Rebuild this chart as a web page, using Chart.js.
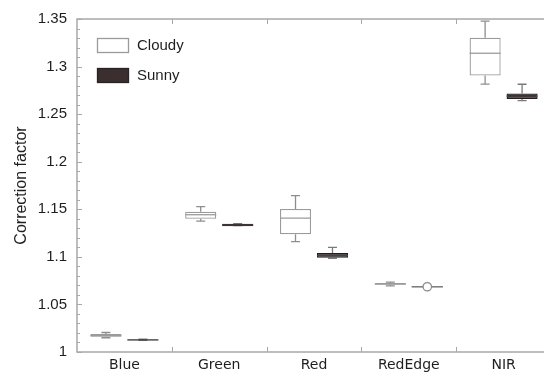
<!DOCTYPE html>
<html>
<head>
<meta charset="utf-8">
<script src="https://cdn.jsdelivr.net/npm/chart.js@4/dist/chart.umd.min.js"></script>
<style>
  html, body { margin: 0; padding: 0; background: #fff; overflow: hidden; }
  #wrap { width: 560px; height: 374px; }
</style>
</head>
<body>
<div id="wrap"><canvas id="c" width="560" height="374"></canvas></div>
<script>
// Spectral bands
const categories = ['Blue', 'Green', 'Red', 'RedEdge', 'NIR'];

// Cloudy-sky correction factors: five-number summaries per band
const cloudyMin    = [1.0150, 1.1375, 1.1160, 1.0695, 1.2815];
const cloudyQ1     = [1.0160, 1.1400, 1.1237, 1.0706, 1.2905];
const cloudyMedian = [1.0172, 1.1443, 1.1408, 1.0715, 1.3140];
const cloudyQ3     = [1.0188, 1.1475, 1.1503, 1.0724, 1.3304];
const cloudyMax    = [1.0205, 1.1528, 1.1643, 1.0735, 1.3478];

// Sunny-sky correction factors
const sunnyMin    = [1.0122, 1.1328, 1.0985, 1.0682, 1.2643];
const sunnyQ1     = [1.0123, 1.1322, 1.0990, 1.0685, 1.2660];
const sunnyMedian = [1.0127, 1.1335, 1.1012, 1.0687, 1.2690];
const sunnyQ3     = [1.0131, 1.1348, 1.1040, 1.0688, 1.2718];
const sunnyMax    = [1.0134, 1.1350, 1.1100, 1.0691, 1.2814];
// Single flagged observation drawn as an open circle
const sunnyMarker = [null, null, null, 1.0686, null];

// Value axis
const yTicks = [1, 1.05, 1.1, 1.15, 1.2, 1.25, 1.3, 1.35];
const yTickLabels = ['1', '1.05', '1.1', '1.15', '1.2', '1.25', '1.3', '1.35'];
const yMinorStep = 0.01;

const AXIS = '#a8a8a8';
const TEXT = '#1e1e1e';

const series = [
  { label: 'Cloudy', min: cloudyMin, q1: cloudyQ1, med: cloudyMedian, q3: cloudyQ3, max: cloudyMax,
    fill: '#ffffff', stroke: '#9b9b9b', whisker: '#8e8e8e', median: '#9b9b9b' },
  { label: 'Sunny', min: sunnyMin, q1: sunnyQ1, med: sunnyMedian, q3: sunnyQ3, max: sunnyMax,
    fill: '#2a2323', stroke: '#231d1d', whisker: '#7a7a7a', median: '#4a4242' }
];

// Whiskers, medians, markers, frame and legend
const boxPlotPlugin = {
  id: 'boxPlot',
  beforeDatasetsDraw(chart) {
    const ctx = chart.ctx;
    const y = chart.scales.y;
    ctx.save();
    series.forEach((s, di) => {
      const meta = chart.getDatasetMeta(di);
      meta.data.forEach((bar, i) => {
        const x = bar.x;
        const yMin = y.getPixelForValue(s.min[i]);
        const yMax = y.getPixelForValue(s.max[i]);
        const yQ1 = y.getPixelForValue(s.q1[i]);
        const yQ3 = y.getPixelForValue(s.q3[i]);
        ctx.strokeStyle = s.whisker;
        ctx.lineWidth = 1.3;
        ctx.beginPath();
        ctx.moveTo(x, yMax); ctx.lineTo(x, yQ3);
        ctx.moveTo(x, yQ1); ctx.lineTo(x, yMin);
        ctx.moveTo(x - 4.5, yMax); ctx.lineTo(x + 4.5, yMax);
        ctx.moveTo(x - 4.5, yMin); ctx.lineTo(x + 4.5, yMin);
        ctx.stroke();
      });
    });
    ctx.restore();
  },
  afterDatasetsDraw(chart) {
    const ctx = chart.ctx;
    const y = chart.scales.y;
    const x = chart.scales.x;
    const area = chart.chartArea;
    ctx.save();
    // medians
    series.forEach((s, di) => {
      const meta = chart.getDatasetMeta(di);
      meta.data.forEach((bar, i) => {
        const ym = y.getPixelForValue(s.med[i]);
        const hw = bar.width / 2;
        ctx.strokeStyle = s.median;
        ctx.lineWidth = 1.3;
        ctx.beginPath();
        ctx.moveTo(bar.x - hw, ym); ctx.lineTo(bar.x + hw, ym);
        ctx.stroke();
      });
    });
    // open-circle marker on the sunny series
    const sMeta = chart.getDatasetMeta(1);
    sunnyMarker.forEach((v, i) => {
      if (v === null) return;
      const bar = sMeta.data[i];
      const py = y.getPixelForValue(v);
      ctx.strokeStyle = '#8a8a8a';
      ctx.lineWidth = 1.2;
      ctx.beginPath();
      ctx.moveTo(bar.x - bar.width / 2, py); ctx.lineTo(bar.x + bar.width / 2, py);
      ctx.stroke();
      ctx.fillStyle = '#ffffff';
      ctx.beginPath();
      ctx.arc(bar.x, py, 4.2, 0, Math.PI * 2);
      ctx.fill();
      ctx.stroke();
    });

    // frame
    ctx.strokeStyle = AXIS;
    ctx.lineWidth = 1.5;
    ctx.beginPath();
    ctx.moveTo(area.left, area.top); ctx.lineTo(area.left, area.bottom);
    ctx.lineTo(area.right, area.bottom); ctx.lineTo(area.right, area.top);
    ctx.closePath();
    ctx.stroke();

    // y ticks (inward), major and minor
    ctx.lineWidth = 1;
    ctx.beginPath();
    const yMin = y.min, yMax = y.max;
    const n = Math.round((yMax - yMin) / yMinorStep);
    for (let k = 0; k <= n; k++) {
      const v = yMin + k * yMinorStep;
      const py = Math.round(y.getPixelForValue(v)) + 0.5;
      const major = k % 5 === 0;
      const len = major ? 5 : 3;
      ctx.moveTo(area.left, py); ctx.lineTo(area.left + len, py);
      ctx.moveTo(area.right, py); ctx.lineTo(area.right - len, py);
    }
    // x ticks at category boundaries (inward)
    for (let i = 1; i < categories.length; i++) {
      const px = Math.round((x.getPixelForValue(i - 1) + x.getPixelForValue(i)) / 2) + 0.5;
      ctx.moveTo(px, area.bottom); ctx.lineTo(px, area.bottom - 5);
      ctx.moveTo(px, area.top); ctx.lineTo(px, area.top + 5);
    }
    ctx.stroke();

    // legend
    ctx.font = '15px "Liberation Sans", Arial, sans-serif';
    ctx.textBaseline = 'middle';
    ctx.textAlign = 'left';
    series.forEach((s, i) => {
      const top = 38 + i * 30;
      ctx.fillStyle = i === 0 ? s.fill : '#3a2e2e';
      ctx.fillRect(97, top, 32, 15);
      ctx.strokeStyle = i === 0 ? '#9b9b9b' : '#2a2323';
      ctx.lineWidth = 1.3;
      ctx.strokeRect(97.5, top + 0.5, 31, 14);
      ctx.fillStyle = TEXT;
      ctx.fillText(s.label, 137, top + 8);
    });
    ctx.restore();
  }
};

new Chart(document.getElementById('c'), {
  type: 'bar',
  data: {
    labels: categories,
    datasets: series.map(s => ({
      label: s.label,
      data: s.q1.map((v, i) => [v, s.q3[i]]),
      backgroundColor: s.fill,
      borderColor: s.stroke,
      borderWidth: 1.3,
      borderSkipped: false,
      categoryPercentage: 0.78,
      barPercentage: 0.84
    }))
  },
  options: {
    responsive: false,
    animation: false,
    layout: { padding: { top: 19, right: 9, left: 0, bottom: 0 } },
    plugins: { legend: { display: false }, tooltip: { enabled: false } },
    scales: {
      x: {
        grid: { display: false, drawTicks: false },
        border: { display: false },
        ticks: {
          color: TEXT,
          padding: 5,
          font: { family: '"DejaVu Sans", sans-serif', size: 14 }
        },
        afterFit(scale) { scale.height = 22; }
      },
      y: {
        min: 1,
        max: 1.35,
        grid: { display: false, drawTicks: false },
        border: { display: false },
        afterBuildTicks(scale) { scale.ticks = yTicks.map(v => ({ value: v })); },
        ticks: {
          color: TEXT,
          padding: 10,
          font: { family: '"Liberation Sans", Arial, sans-serif', size: 15 },
          callback: (v, i) => yTickLabels[i]
        },
        title: {
          display: true,
          text: 'Correction factor',
          color: TEXT,
          padding: { top: 12, bottom: 0 },
          font: { family: '"Liberation Sans", Arial, sans-serif', size: 16 }
        },
        afterFit(scale) { scale.width = 77; }
      }
    }
  },
  plugins: [boxPlotPlugin]
});
</script>
</body>
</html>
